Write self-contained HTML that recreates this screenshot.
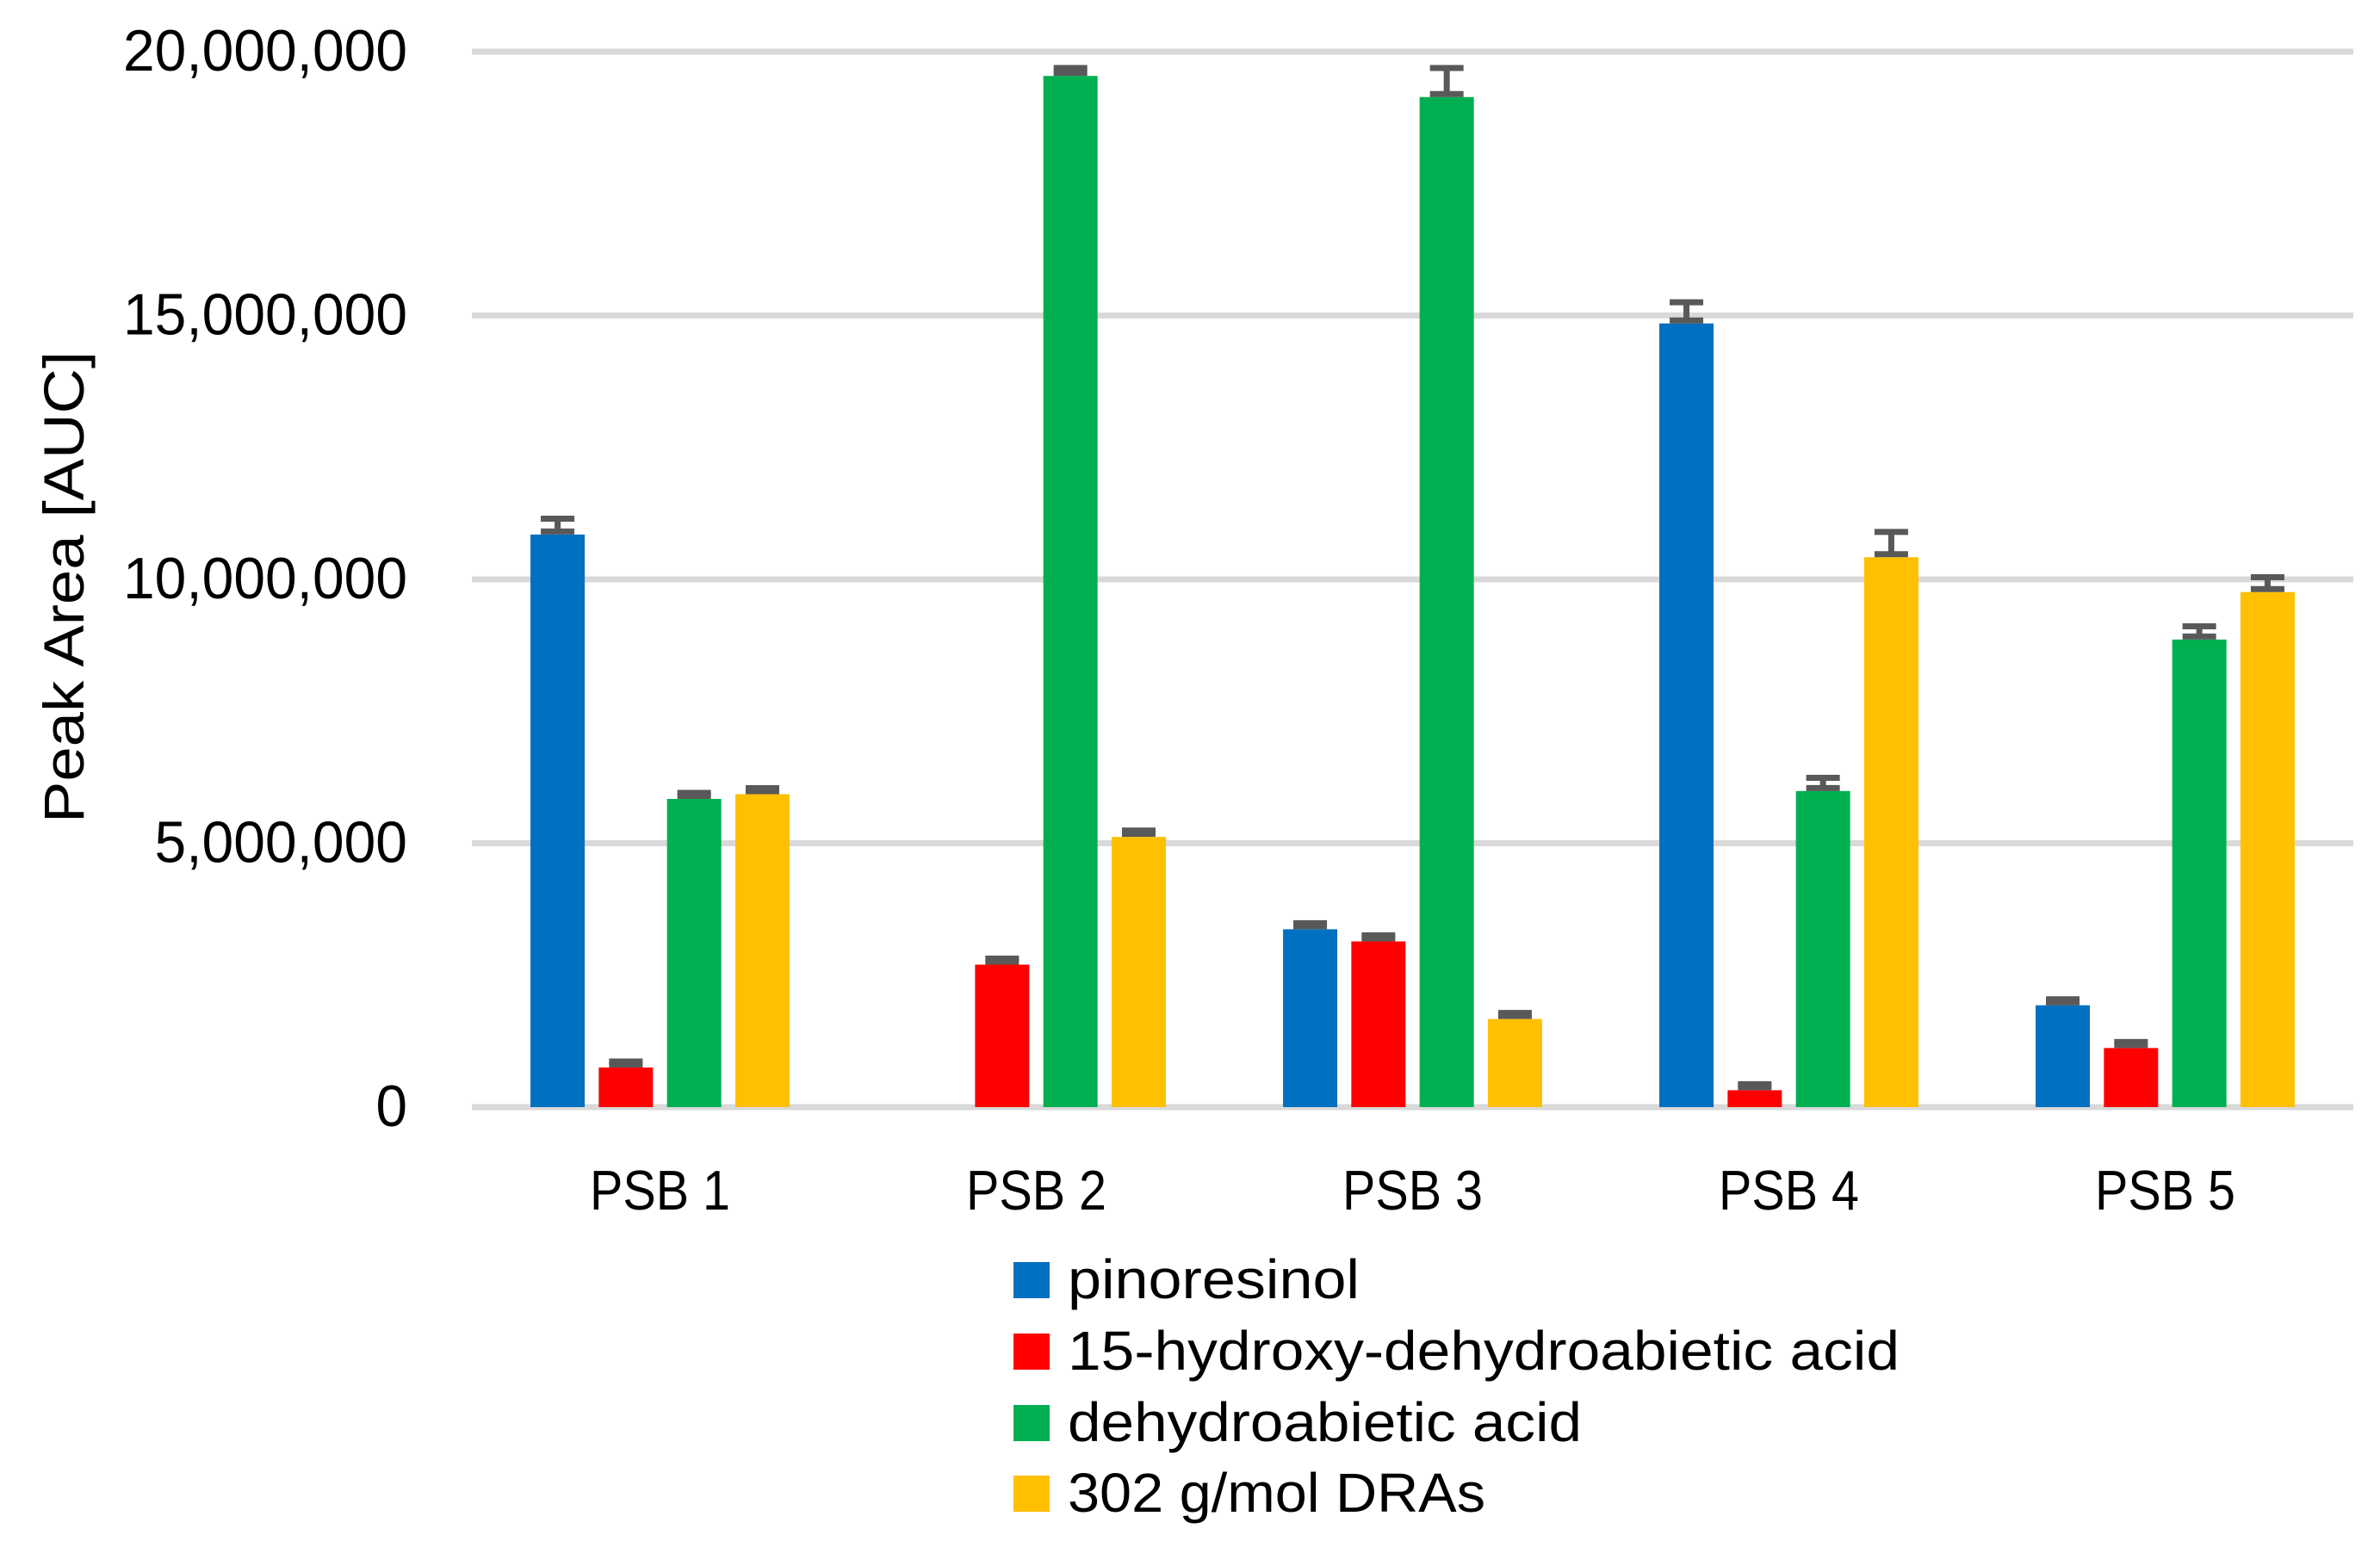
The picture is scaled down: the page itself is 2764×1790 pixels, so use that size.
<!DOCTYPE html>
<html><head><meta charset="utf-8"><style>
html,body{margin:0;padding:0;background:#fff}
svg{display:block;font-family:"Liberation Sans",sans-serif}
</style></head><body>
<svg id="chart" width="2764" height="1790" viewBox="0 0 2764 1790" xmlns="http://www.w3.org/2000/svg">
<g id="grid"></g>
<g id="yticks"></g>
<g id="bars"></g>
<g id="xlabels"></g>
<text x="0" y="0" transform="translate(97,682) rotate(-90)" text-anchor="middle" font-size="66" textLength="548" lengthAdjust="spacingAndGlyphs">Peak Area [AUC]</text>
<g id="legend"></g>
</svg>
<script>
const categories = ["PSB 1","PSB 2","PSB 3","PSB 4","PSB 5"];
const seriesNames = ["pinoresinol","15-hydroxy-dehydroabietic acid","dehydroabietic acid","302 g/mol DRAs"];
const pinoresinol = [10850000, 0, 3370000, 14850000, 1930000];
const hydroxyDHA = [750000, 2700000, 3140000, 320000, 1120000];
const dehydroabietic = [5840000, 19540000, 19140000, 5990000, 8860000];
const dras302 = [5930000, 5120000, 1670000, 10420000, 9760000];
const errPinoresinol = [300000, 0, 70000, 400000, 60000];
const errHydroxyDHA = [50000, 70000, 50000, 50000, 50000];
const errDehydroabietic = [100000, 150000, 550000, 250000, 250000];
const errDras302 = [100000, 120000, 50000, 480000, 280000];
const yTicks = [0, 5000000, 10000000, 15000000, 20000000];
const yTickLabels = ["0","5,000,000","10,000,000","15,000,000","20,000,000"];

const colors = ["#0070C0","#FF0000","#00B050","#FFC000"];
const series = [pinoresinol, hydroxyDHA, dehydroabietic, dras302];
const errs = [errPinoresinol, errHydroxyDHA, errDehydroabietic, errDras302];
const NS = "http://www.w3.org/2000/svg";
const L = 548, R = 2733, Y0 = 1286, Y20 = 60;
const y = v => Y0 - (v / 20000000) * (Y0 - Y20);
const catW = (R - L) / categories.length;
const xc = i => L + catW * (i + 0.5);
const barW = 63, pitch = 79.3;
function mk(tag, attrs, parent){const e=document.createElementNS(NS,tag);for(const k in attrs)e.setAttribute(k,attrs[k]);parent.appendChild(e);return e;}

const grid = document.getElementById('grid'), yt = document.getElementById('yticks');
yTicks.forEach((t,i)=>{
  const ln = mk('line',{x1:L,x2:R,y1:y(t),y2:y(t),stroke:'#D9D9D9','stroke-width':7},grid);
  
  
  const lab = yTickLabels[i];
  const nc = lab.split(',').length-1;
  const tx = mk('text',{x:473,y:y(t)+22,'text-anchor':'end','font-size':68},yt);
  tx.setAttribute('textLength', String((lab.length-nc)*36.5 + nc*19));
  tx.setAttribute('lengthAdjust','spacingAndGlyphs');
  tx.textContent = lab;
  
  
});

const bars = document.getElementById('bars');
categories.forEach((c,i)=>{
  series.forEach((s,j)=>{
    const v = s[i]; if(v<=0) return;
    const x = xc(i) + (j-1.5)*pitch - barW/2;
    const r = mk('rect',{x:x,y:y(v),width:barW,height:Y0-y(v),fill:colors[j]},bars);
    
    
    const e = errs[j][i], cx = x+barW/2;
    const g = mk('g',{stroke:'#595959','stroke-width':7},bars);
    
    
    const yb = y(v)-3.5, ytop = Math.min(y(v+e), yb-3.5);
    mk('line',{x1:cx,x2:cx,y1:ytop,y2:yb},g);
    mk('line',{x1:cx-19.5,x2:cx+19.5,y1:ytop,y2:ytop},g);
    mk('line',{x1:cx-19.5,x2:cx+19.5,y1:yb,y2:yb},g);
  });
  const t = mk('text',{x:xc(i),y:1405,'text-anchor':'middle','font-size':65,textLength:163,lengthAdjust:'spacingAndGlyphs'},document.getElementById('xlabels'));
  t.textContent = c;
  
  
});

const leg = document.getElementById('legend');
const legW = [339, 966, 597, 485];
const legY = [1508, 1591, 1674, 1756];
seriesNames.forEach((n,j)=>{
  const by = legY[j];
  const g = mk('g',{},leg);
  
  
  mk('rect',{x:1177,y:by-42,width:42,height:42,fill:colors[j]},g);
  const t = mk('text',{x:1240,y:by,'font-size':64,textLength:legW[j],lengthAdjust:'spacingAndGlyphs'},g);
  t.textContent = n;
});
</script>
</body></html>
